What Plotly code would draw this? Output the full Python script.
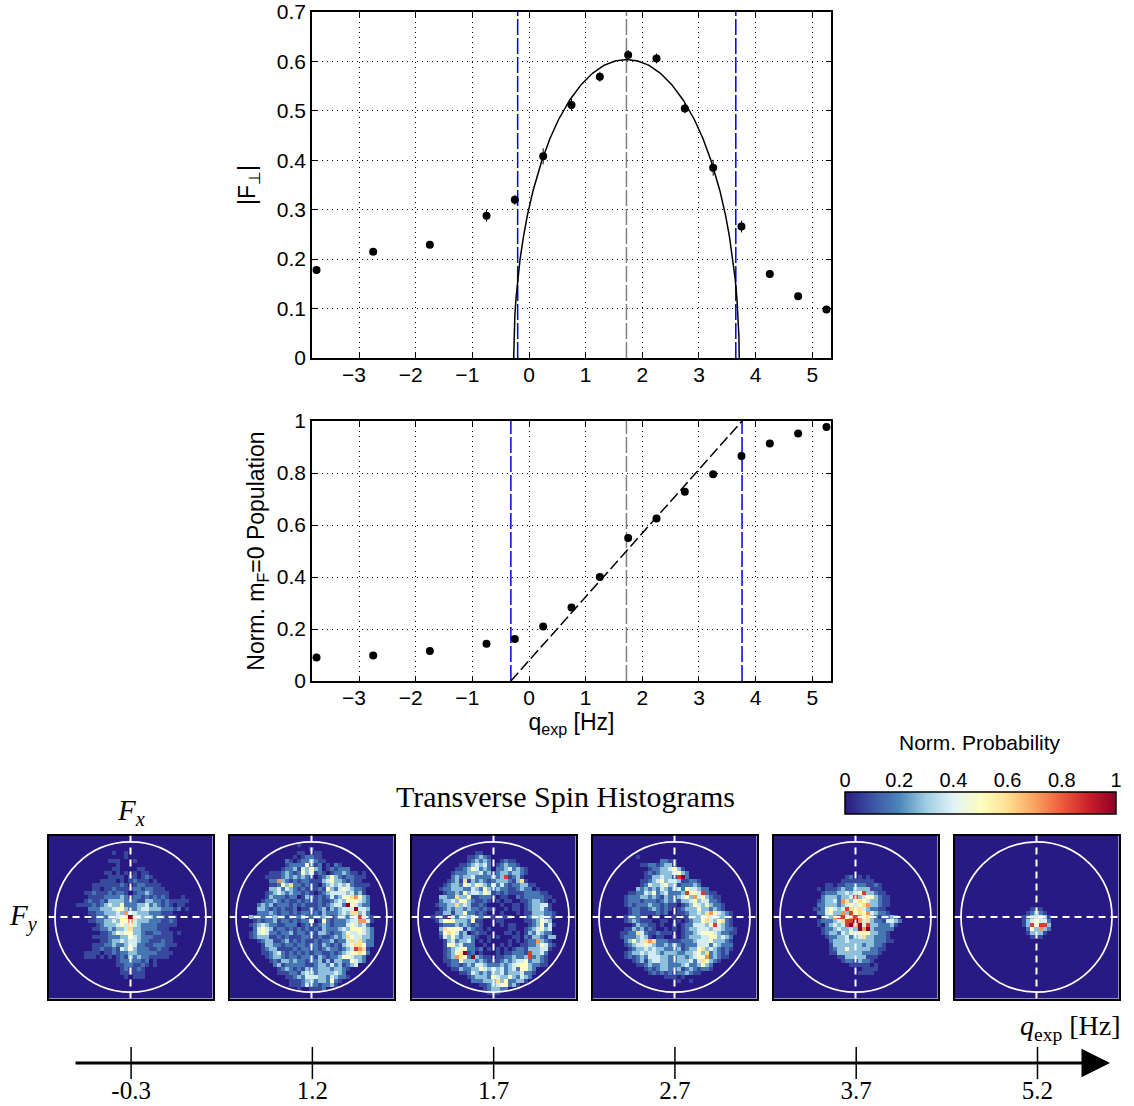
import plotly.graph_objects as go

W, H = 1134, 1106
# ---------- data ----------
q = [-3.75,-2.75,-1.75,-0.75,-0.25,0.25,0.75,1.25,1.75,2.25,2.75,3.25,3.75,4.25,4.75,5.25]
f_perp = [.178,.215,.229,.288,.32,.408,.512,.569,.613,.606,.505,.385,.266,.17,.125,.098]
f_err = [.006,.006,.006,.012,.01,.016,.012,.01,.01,.01,.01,.016,.012,.008,.004,.004]
rho0 = [.09,.098,.115,.143,.162,.21,.283,.4,.55,.625,.728,.795,.865,.913,.952,.977]
curve_x = [-0.27,-0.265,-0.25,-0.23,-0.20,-0.16,-0.10,-0.03,0.07,0.22,0.37,0.52,0.72,0.92,1.12,1.32,1.52,1.72,
           1.92,2.12,2.32,2.52,2.72,2.92,3.07,3.22,3.37,3.47,3.54,3.60,3.64,3.67,3.69,3.705,3.71]
curve_y = [0,.043,.085,.12,.159,.198,.244,.288,.338,.397,.444,.482,.522,.553,.576,.592,.601,.604,
           .601,.592,.576,.553,.522,.482,.444,.397,.338,.288,.244,.198,.159,.12,.085,.043,0]
ramp_x = [-0.32, 3.76]
ramp_y = [0, 1]
top_blue = [-0.2, 3.65]
bot_blue = [-0.32, 3.76]
gray_q = 1.72
hist_q = ["-0.3", "1.2", "1.7", "2.7", "3.7", "5.2"]
x_ticks = [-3, -2, -1, 0, 1, 2, 3, 4, 5]
x_tick_text = ["−3\u00a0\u2009", "−2\u00a0\u2009", "−1\u00a0\u2009", "0", "1", "2", "3", "4", "5"]
cbar_ticks = [0, .2, .4, .6, .8, 1]
cbar_text = ["0", "0.2", "0.4", "0.6", "0.8", "1"]
digit_value = [0, .08, .17, .28, .38, .5, .6, .72, .85, 1]

P1 = ["","","","",
"0000000000 0000001001","0000000000 0000000001","0000000000 0000011100 01","0000000000 0000000100",
"0000000000 0000001100 0011","0000000000 0000110101 0101100","0000000000 0000011110 1101210","0000000000 0001111010 1211101",
"0000000000 0111111121 0122111100","0000000000 0110112111 1221221110","0000000001 1211121221 0122321111",
"0000000000 1111222232 1221212121 0001","0000000001 2112133332 2211332212 11111","0000000111 1212343352 2233423212 10110",
"0000000000 2223334553 2234433322 21201","0000000000 1122333437 4433322211 100","0000000000 0122233456 9643332221 11",
"0000000000 1122334355 7433322211 21","0000000000 0012333454 6432222111 11","0000000000 0112232334 6332222111 0",
"0000000000 0001123545 5332112211 101","0000000000 0111122233 5432221111 1","0000000000 0001123343 4432211121 1",
"0000000000 0111223223 4422112221 1100","0000000000 0112112143 5322211211","0000000001 1110112122 3322222111 1",
"0000000001 1101010121 3232211111","0000000000 0000000122 2221201","0000000000 0000000112 2112101",
"0000000000 0000000012 1121","0000000000 0000000011 1111","0000000000 0000000001 0111"]

P2 = ["","",
"0000000000 0000000100","0000000000 0000000000 1","0000000000 0000000110 011","0000000000 0000001012 2110",
"0000000000 0000210122 3211","0000000000 0000122225 2120102100","0000000000 0001223143 5320121222",
"0000000000 1112321253 4121012232 1101","0000000001 1112323232 1012353212 2111","0000000000 2273212122 1113453321 2110",
"0000000000 1125362212 1102343434 2111 1","0000000000 3342432121 1121532454 3221","0000000001 2343232212 1012344443 4231",
"0000000001 3222122013 2121242355 6753 2","0000000012 2321211212 1121123435 5543 2","0000000232 3122212121 1121234429 5432 2",
"0000000332 1212112011 2123132344 4944 3","0000000222 3212212122 1213222343 6634 2","0000032222 2322121231 2223212332 3484 21",
"0000001212 2312212122 5015212223 4477 41","0000012343 2211222012 1123212224 5434 2","0000002454 3122121212 1213222343 5554 32",
"0000012454 2212231221 2133212235 4454 32","0000012333 1121211122 1121123236 5443 32","0000000123 3112312121 1212231224 6463 22",
"0000000013 3221221221 2213212134 5665 22","0000000012 3311112122 1212322123 4876 1","0000000011 2342121212 1221121234 5565 2",
"0000000001 2332122122 2132122355 4332","0000000000 1213323221 2231313322 5432","0000000000 0231222221 1233242312 34",
"0000000000 0012321213 2233323321","0000000000 0011122134 3233334320","0000000000 0000112324 4433243221",
"0000000000 0000011123 3233252100","0000000000 0000011124 2212231","0000000000 0000000100 1112"]

P3 = ["","","","",
"0000000000 0000001100","0000000000 0000112321 0","0000000000 0000123232 0012110","0000000000 0011234342 0123 221",
"0000000000 0112354232 0223423210","0000000000 1222333423 1233233210","0000000000 2323342222 3238123100","0000000001 2316132321 2333213610",
"0000000012 3325435432 4242122331 1","0000000122 3332243253 2322112322 01","0000000012 2325344354 1212111122 2211",
"0000000332 2633511222 1011002122 2221 1","0000000233 4355321121 0101100112 3321 01","0000001223 3634311210 0010011012 3344 1",
"0000000123 2332322121 1001011012 3342 1","0000001133 1335221210 0010001011 3332 21","0000011219 3233342211 1111100012 3342 21",
"0000001355 5333251100 0110000011 2354 3","0000000122 2323212100 0010110001 2352 41","0000000365 5541321101 0000110012 3453 4",
"0000000256 5423012110 0001101013 2432 2","0000000143 5323321001 0100011021 3321 33","0000000013 4233420101 0000101012 2732 1",
"0000000015 5342220010 0010100112 2354 21","0000000012 3455221201 0101012213 3344 1","0000000012 3569120100 0101122218 3342",
"0000000012 3765293211 0112232238 2321","0000000011 2253332321 1123234452 3321","0000000001 2212324432 2232345553 2211",
"0000000000 1132233543 4342342553 2","0000000000 0011243232 3342333422 1","0000000000 0000123332 5433532432",
"0000000000 0000022233 3635223310","0000000000 0000000112 3455231","0000000000 0000000012 3322","0000000000 0000000001 11"]

P4 = ["","","","","",
"0000000000 0100","0000000000 0000000221 1","0000000000 0011221233 1","0000000000 0000122334 53 1","0000000000 0001212333 4532",
"0000000000 0001133433 1892","0000000000 0011234534 4311221","0000000000 0012433453 3122232","0000000000 0323232432 3425443 22",
"0000000001 1224352342 2238554821 1","0000000012 2233232132 2345374532 11","0000000012 2212221232 2133453442 21",
"0000000012 1222322121 1012354353 221","0000000001 2211232121 0123335332 321","0000000001 2211112120 0112334367 5432 1",
"0000000012 2211011000 1011333564 4332 1","0000000012 3211100110 0101233564 3562 1","0000000000 1322110100 1012244435 8432 1",
"0000000011 3231210010 1012334443 4432 21","0000000112 2642112111 0012234555 4322 11","0000000122 2343101100 1012333445 5343 2",
"0000000023 5346762221 1122234445 3332 1","0000000012 3445432232 3212224442 4322 2","0000000001 2334343322 2312335634 3212 1",
"0000000012 3343443233 3223345362 3212","0000000012 1232444332 2332345572 3211","0000000000 1231344332 2333424653 21",
"0000000000 0112322332 2234223532","0000000000 0001212332 2312321221","0000000000 0000121212 1223211","0000000000 0000000011 101",
"0000000000 0000000000 0100 1"]

P5 = ["","","","","","","","","","",
"0000000000 0000000012 0101","0000000000 0000000111 11111","0000000000 0001101122 2221121","0000000000 0101112322 3333111",
"0000000000 0012223343 4583 3211","0000000000 0023332334 8345 5321 1","0000000000 0123342763 5654 3321 1","0000000000 0223332345 4567 3321 1",
"0000000000 1124543486 6643 2211","0000000000 0224533738 5657 4322 1","0000000000 0013378857 8756 3212 232","0000000000 0122234688 9746 3221 4432",
"0000000000 0102343489 7948 3322 231","0000000000 0012234334 3979 3222 22","0000000000 0012332435 4555 3322 1","0000000000 0001223342 3463 3222 1",
"0000000000 0000233343 3333 3222 11","0000000000 0000133333 3323 3221","0000000000 0000123353 3333 2211","0000000000 0000113333 3322 221",
"0000000000 0000001133 3331 11","0000000000 0000000122 1322 1","0000000000 0000000001 1111 01","0000000000 0000000000 0011 11","0000000000 0000000000 0111 1"]

P6 = ["","","","","","","","","","","","","","","","","","",
"0000000000 0000000001 11","0000000000 0000000012 321","0000000000 0000000123 4431","0000000000 0000000134 5442",
"0000000000 0000000138 5883","0000000000 0000000025 3732","0000000000 0000000013 331","0000000000 0000000001 11"]

PANEL_ROWS = [P1, P2, P3, P4, P5, P6]
N_BINS = 41


def decode(rows):
    out = []
    for i in range(N_BINS):
        s = rows[i].replace(" ", "") if i < len(rows) else ""
        s = s.ljust(N_BINS, "0")[:N_BINS]
        out.append([digit_value[int(c)] for c in s])
    return out


# ---------- layout helpers ----------
def dx(a, b):
    return [a / W, b / W]


def dy(top, bottom):
    return [1 - bottom / H, 1 - top / H]


SANS = "Liberation Sans, Arial, sans-serif"
SERIF = "Liberation Serif, Times New Roman, serif"
colorscale = [[0, "#281a82"], [0.1, "#3b53a4"], [0.2, "#4b86b9"], [0.3, "#9fcde3"], [0.4, "#e2f3f6"],
              [0.5, "#fdfec0"], [0.6, "#fedf92"], [0.7, "#fba35e"], [0.8, "#ee5b3c"], [0.9, "#c91f2a"], [1, "#8e0026"]]

fig = go.Figure()
shapes, annos = [], []
layout = {}

axis_common = dict(showline=True, linecolor="black", linewidth=1.5, mirror="ticks", ticks="inside", ticklen=5,
                   tickwidth=1, tickcolor="black", showgrid=True, gridcolor="black", griddash="1px,4px", gridwidth=1,
                   zeroline=False, tickfont=dict(family=SANS, size=21, color="black"))
xrange_ = [-3.83, 5.33]
title_font = dict(family=SANS, size=23, color="black")
layout["xaxis"] = dict(axis_common, domain=dx(312, 831), range=xrange_, tickvals=x_ticks, ticktext=x_tick_text, anchor="y", ticklabelstandoff=-3)
layout["yaxis"] = dict(axis_common, domain=dy(12, 358), range=[0, 0.7], dtick=0.1, anchor="x",
                       title=dict(text="|F<sub>⊥</sub>|", font=title_font, standoff=15))
layout["xaxis2"] = dict(axis_common, domain=dx(312, 831), range=xrange_, tickvals=x_ticks, ticktext=x_tick_text, anchor="y2", ticklabelstandoff=-3,
                        title=dict(text="q<sub>exp</sub> [Hz]", font=title_font, standoff=2))
layout["yaxis2"] = dict(axis_common, domain=dy(421, 681), range=[0, 1], dtick=0.2, anchor="x2",
                        title=dict(text="Norm. m<sub>F</sub>=0 Population", font=title_font, standoff=6))


def vline(x, top, color, xa, ya, dash="16px,3px"):
    fig.add_trace(go.Scatter(x=[x, x], y=[0, top], mode="lines", xaxis=xa, yaxis=ya, showlegend=False,
                             line=dict(color=color, width=1.5, dash=dash), hoverinfo="skip"))


# top panel
for v in top_blue:
    vline(v, 0.7, "#0000e0", "x", "y")
vline(gray_q, 0.7, "#808080", "x", "y")
fig.add_trace(go.Scatter(x=curve_x, y=curve_y, mode="lines", line=dict(color="black", width=1.5),
                         xaxis="x", yaxis="y", showlegend=False))
fig.add_trace(go.Scatter(x=q, y=f_perp, mode="markers", marker=dict(color="black", size=8),
                         error_y=dict(type="data", array=f_err, color="black", thickness=1, width=0),
                         xaxis="x", yaxis="y", showlegend=False))
# bottom panel
for v in bot_blue:
    vline(v, 1, "#0000e0", "x2", "y2")
vline(gray_q, 1, "#808080", "x2", "y2")
fig.add_trace(go.Scatter(x=ramp_x, y=ramp_y, mode="lines", line=dict(color="black", width=1.5, dash="11px,4px"),
                         xaxis="x2", yaxis="y2", showlegend=False))
fig.add_trace(go.Scatter(x=q, y=rho0, mode="markers", marker=dict(color="black", size=8),
                         xaxis="x2", yaxis="y2", showlegend=False))

# histograms
panel_left = [47, 228, 410, 591, 772, 953]
half = 1.086
cell = 2 * half * 1.012 / N_BINS   # cells overfill the frame a little so no white seam remains
edge = N_BINS * cell / 2
for k, (rows, left) in enumerate(zip(PANEL_ROWS, panel_left)):
    n = k + 3
    xa, ya = f"x{n}", f"y{n}"
    fig.add_trace(go.Heatmap(z=decode(rows), x0=-edge + cell / 2, dx=cell, y0=edge - cell / 2, dy=-cell,
                             coloraxis="coloraxis", xaxis=xa, yaxis=ya, hoverongaps=False))
    ax = dict(showline=True, linecolor="black", linewidth=1.5, mirror=True, ticks="", showticklabels=False,
              showgrid=False, zeroline=False, range=[-half, half])
    layout[f"xaxis{n}"] = dict(ax, domain=dx(left + 1.5, left + 165.5), anchor=ya)
    layout[f"yaxis{n}"] = dict(ax, domain=dy(835.5, 998.5), anchor=xa)
    shapes.append(dict(type="circle", xref=xa, yref=ya, x0=-1, x1=1, y0=-1, y1=1, line=dict(color="white", width=1.7)))
    for a in [dict(x0=-half, x1=half, y0=0, y1=0), dict(x0=0, x1=0, y0=-half, y1=half)]:
        shapes.append(dict(type="line", xref=xa, yref=ya, line=dict(color="white", width=2, dash="7px,5px"), **a))

layout["coloraxis"] = dict(cmin=0, cmax=1, colorscale=colorscale,
                           colorbar=dict(orientation="h", x=845 / W, xanchor="left", y=1 - 792 / H, yanchor="top",
                                         len=271, lenmode="pixels", thickness=22, thicknessmode="pixels",
                                         xpad=0, ypad=0, tickvals=cbar_ticks, ticks="", showticklabels=False,
                                         outlinecolor="black", outlinewidth=1.5))
# tick labels of the colour bar sit above it
layout["xaxis10"] = dict(domain=dx(845, 1116), range=[0, 1], side="top", anchor="y10", tickvals=cbar_ticks, ticktext=cbar_text,
                         ticks="inside", ticklen=3, tickcolor="#333333", showline=False, showgrid=False, zeroline=False,
                         tickfont=dict(family=SANS, size=20, color="black"))
layout["yaxis10"] = dict(domain=dy(792, 814), range=[0, 1], visible=False, anchor="x10")
fig.add_trace(go.Scatter(x=[None], y=[None], xaxis="x10", yaxis="y10", showlegend=False, mode="markers"))

# q axis under the histograms
idx = list(range(len(hist_q)))
layout["xaxis9"] = dict(domain=dx(74, 1110), range=[-0.315, 5.4], tickvals=idx, ticktext=hist_q, ticks="",
                        showline=False, showgrid=False, zeroline=False, anchor="y9", ticklabelstandoff=-1,
                        tickfont=dict(family=SERIF, size=25, color="black"))
layout["yaxis9"] = dict(domain=dy(1052, 1074), range=[-1, 1], visible=False, anchor="x9")
fig.add_trace(go.Scatter(x=idx, y=[0] * len(idx), mode="markers", xaxis="x9", yaxis="y9", showlegend=False, cliponaxis=False,
                         marker=dict(symbol="line-ns", size=23, line=dict(color="black", width=1.5))))
annos.append(dict(x=5.4, y=0, ax=-0.315, ay=0, xref="x9", yref="y9", axref="x9", ayref="y9", showarrow=True, text="",
                  arrowhead=2, arrowsize=1.9, arrowwidth=3, arrowcolor="black"))


def text(px, py, s, family, size, **kw):
    annos.append(dict(x=px / W, y=1 - py / H, xref="paper", yref="paper", text=s, showarrow=False,
                      font=dict(family=family, size=size, color="black"), xanchor="center", yanchor="middle", **kw))


text(980, 742, "Norm. Probability", SANS, 21)
text(565, 796, "Transverse Spin Histograms", SERIF, 30)
text(131, 812, "<i>F<sub>x</sub></i>", SERIF, 29)
text(23, 917, "<i>F<sub>y</sub></i>", SERIF, 29)
text(1070, 1027, "<i>q</i><sub>exp</sub> [Hz]", SERIF, 28)

fig.update_layout(width=W, height=H, autosize=False, margin=dict(l=0, r=0, t=0, b=0, autoexpand=False), paper_bgcolor="white", plot_bgcolor="white",
                  showlegend=False, shapes=shapes, annotations=annos, **layout)
fig.write_html("out.html", config=dict(displayModeBar=False), post_script="document.body.style.margin='0';document.body.style.overflow='hidden';")
